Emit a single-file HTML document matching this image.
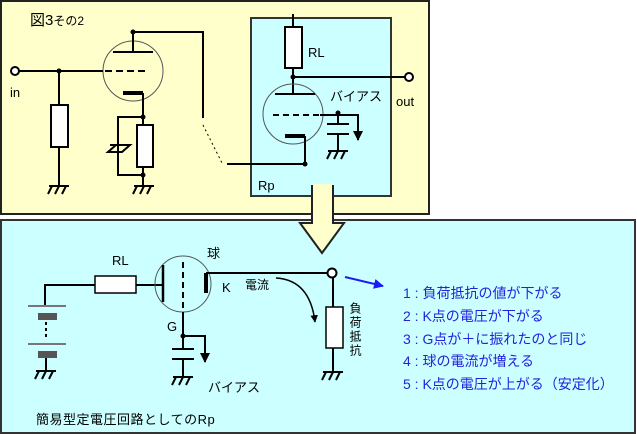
<!DOCTYPE html>
<html><head><meta charset="utf-8"><style>
html,body{margin:0;padding:0;background:#fff;}
svg{display:block;font-family:"Liberation Sans","Noto Sans CJK JP",sans-serif;}
</style></head><body>
<svg width="637" height="434" viewBox="0 0 637 434" xmlns="http://www.w3.org/2000/svg">
<defs>
<marker id="ah" viewBox="0 0 10 10" refX="9" refY="5" markerWidth="5" markerHeight="5" orient="auto"><path d="M0,0 L10,5 L0,10 z" fill="#000"/></marker>
<marker id="ab" viewBox="0 0 10 10" refX="9" refY="5" markerWidth="5" markerHeight="5" orient="auto"><path d="M0,0 L10,5 L0,10 z" fill="#1a1aff"/></marker>
<g id="gnd" stroke="#000" stroke-width="2" fill="none"><path d="M-10,0 H10 M-7,0 L-11,8 M0,0 L-4,8 M7,0 L3,8"/></g>
</defs>
<rect x="1" y="1" width="428" height="213" fill="#ffffcc" stroke="#222" stroke-width="2"/>
<rect x="1" y="220" width="634" height="213" fill="#ccffff" stroke="#333" stroke-width="2"/>
<rect x="251" y="18" width="140" height="178" fill="#ccffff" stroke="#333" stroke-width="2"/>
<path d="M312,186 H333 V223 H344 L322,253 L300,223 H312 Z" fill="#ffffcc" stroke="#222" stroke-width="2"/>
<rect x="313" y="184" width="19" height="14" fill="#ffffcc"/>
<path d="M312,186 V198 M333,186 V198" stroke="#222" stroke-width="2"/>

<text x="30" y="25" font-size="15">図3<tspan font-size="12">その2</tspan></text>
<g stroke="#000" stroke-width="2" fill="none">
<circle cx="133" cy="71" r="30" stroke="#555" stroke-width="1"/>
<path d="M19,71 H103 M59,71 V105 M59,147 V185"/>
<rect x="51" y="105" width="17" height="42" fill="#fff"/>
<path d="M113,52 H153 M133,52 V32 H203 V118"/>
<path d="M105,71 H148" stroke-dasharray="7,4"/>
<path d="M123,93 H143" stroke-width="4"/>
<path d="M143,93 V125 M143,167 V185 M143,117 H118 V175 H143"/>
<rect x="137" y="125" width="16" height="42" fill="#fff"/>
<path d="M108,152 L116,145 H130 L122,152 Z M110,145 H128" stroke-width="2"/>
<path d="M203,125 L222,163" stroke-dasharray="2,3" stroke-width="1"/>
<path d="M227,164 H305"/>
<path d="M293,14 V27 M293,68 V94 M293,77 H405"/>
<rect x="285" y="27" width="17" height="41" fill="#fff"/>
<circle cx="293" cy="114" r="30" stroke="#555" stroke-width="1"/>
<path d="M275,94 H315"/>
<path d="M273,115 H320" stroke-dasharray="6,4"/>
<path d="M320,115 H358 V140" marker-end="url(#ah)"/>
<path d="M338,113 V124 M327,124 H349 M327,134 H349 M338,134 V150"/>
<path d="M285,136 H305" stroke-width="4"/>
<path d="M305,136 V164"/>
<path d="M45,306 V285 H95 M136,285 H163"/>
<rect x="95" y="276" width="41" height="17" fill="#fff" stroke-width="1.5"/>
<circle cx="183" cy="284" r="28" stroke="#555" stroke-width="1"/>
<path d="M163,265 V302" stroke-width="2.5"/>
<path d="M183,262 V312" stroke-dasharray="6,4"/>
<path d="M183,312 V349 M183,336 H205 V362" marker-end="url(#ah)"/>
<path d="M172,349 H194 M172,359 H194 M183,359 V377"/>
<path d="M206,273 V293" stroke-width="4"/>
<path d="M206,273 H328"/>
<path d="M333,278 V307 M333,348 V372"/>
<rect x="326" y="307" width="17" height="41" fill="#fff" stroke-width="1.5"/>
<path d="M276,278 Q310,280 315,322" stroke-width="1.5" marker-end="url(#ah)"/>
<path d="M28,306 H66 M28,344 H66" stroke="#777" stroke-width="2"/>
<path d="M46,322 V340" stroke-dasharray="3,3"/>
<path d="M46,358 V370"/>
</g>
<rect x="38" y="313" width="19" height="7" fill="#555"/>
<rect x="38" y="351" width="19" height="7" fill="#555"/>
<g fill="#000"><circle cx="59" cy="71" r="2.5"/><circle cx="133" cy="32" r="2.5"/><circle cx="143" cy="117" r="2.5"/><circle cx="143" cy="175" r="2.5"/><circle cx="305" cy="164" r="2.5"/><circle cx="293" cy="77" r="2.5"/><circle cx="338" cy="113" r="2.5"/><circle cx="183" cy="336" r="2.5"/></g>
<circle cx="15" cy="71" r="4" fill="#fff" stroke="#000" stroke-width="2"/>
<circle cx="409" cy="77" r="4" fill="#fff" stroke="#000" stroke-width="2"/>
<circle cx="332" cy="273" r="4.5" fill="#fff" stroke="#000" stroke-width="2"/>
<use href="#gnd" x="59" y="186"/><use href="#gnd" x="144" y="186"/><use href="#gnd" x="338" y="151"/>
<use href="#gnd" x="46" y="371"/><use href="#gnd" x="183" y="377"/><use href="#gnd" x="333" y="372"/>
<path d="M345,277 L383,286" stroke="#1a1aff" stroke-width="2" marker-end="url(#ab)"/>

<g font-size="13" fill="#000">
<text x="10" y="97">in</text>
<text x="308" y="57">RL</text>
<text x="396" y="106">out</text>
<text x="330" y="101">バイアス</text>
<text x="258" y="190">Rp</text>
<text x="112" y="265">RL</text>
<text x="207" y="258">球</text>
<text x="222" y="292">K</text>
<text x="245" y="289" font-size="12">電流</text>
<text x="167" y="331">G</text>
<text x="208" y="392">バイアス</text>
<text x="36" y="424" letter-spacing="0.5">簡易型定電圧回路としてのRp</text>
<text x="355" y="302" font-size="12" letter-spacing="2" style="writing-mode:vertical-rl">負荷抵抗</text>
</g>
<g font-size="14" fill="#2222dd">
<text x="403" y="298">1 : 負荷抵抗の値が下がる</text>
<text x="403" y="321">2 : K点の電圧が下がる</text>
<text x="403" y="344">3 : G点が＋に振れたのと同じ</text>
<text x="403" y="366">4 : 球の電流が増える</text>
<text x="403" y="389">5 : K点の電圧が上がる（安定化）</text>
</g>
</svg>
</body></html>
